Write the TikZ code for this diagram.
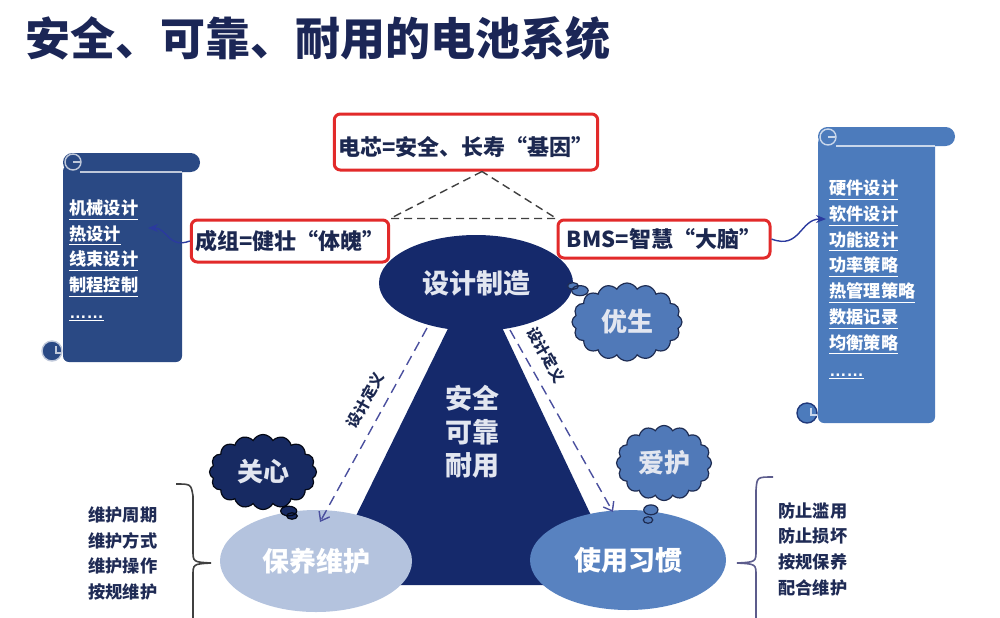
\documentclass[tikz,border=0pt]{standalone}
\usepackage{fontspec}
\setmainfont{Noto Sans CJK SC}
\newfontfamily\latinf{Liberation Sans}
\usetikzlibrary{shapes.geometric,shapes.symbols,shapes.callouts,arrows.meta}
\definecolor{titlec}{HTML}{1B2656}
\definecolor{navy}{HTML}{15296B}
\definecolor{navycloud}{HTML}{172A62}
\definecolor{cloudb}{HTML}{5079B8}
\definecolor{cloudline}{HTML}{1E2C52}
\definecolor{lightell}{HTML}{B4C3DE}
\definecolor{midell}{HTML}{5882C0}
\definecolor{redc}{HTML}{E22A2A}
\definecolor{boxtext}{HTML}{1C2850}
\definecolor{scrollL}{HTML}{2A4984}
\definecolor{scrollR}{HTML}{4C7BBC}
\definecolor{arrowc}{HTML}{2B3A9E}
\definecolor{dasharr}{HTML}{4A4F9E}
\definecolor{lighttxt}{HTML}{E2E6F0}
\definecolor{listc}{HTML}{1F2B55}
\definecolor{bracec}{HTML}{5C5C8C}
\newcommand\uln[1]{\underline{#1}}
\begin{document}
\begin{tikzpicture}[x=0.5pt,y=-0.5pt,
  redbox/.style={draw=redc, line width=1.5pt, rounded corners=3pt, fill=white, inner sep=2pt, text=boxtext, font=\fontsize{11}{13}\selectfont\bfseries},
  bigell/.style={ellipse, inner sep=0pt, text=white, font=\fontsize{13.5}{16}\selectfont\bfseries},
  thought/.style={cloud callout, cloud puffs=16, cloud puff arc=125, cloud ignores aspect, draw=cloudline, line width=0.6pt, inner sep=0pt, text=lighttxt, font=\fontsize{13}{15}\selectfont\bfseries},
  dasharrow/.style={draw=dasharr, line width=0.7pt, dash pattern=on 5pt off 3pt, -{Straight Barb[length=4pt,width=6pt]}},
  deflabel/.style={anchor=south, inner sep=1pt, outer sep=5pt, text=boxtext, font=\fontsize{7.5}{8.5}\selectfont\bfseries},
  dashtri/.style={draw=black!75, line width=0.7pt, dash pattern=on 4pt off 2.5pt},
  conn/.style={draw=arrowc, line width=0.7pt, -{Stealth[length=5pt,width=4pt]}},
  listtext/.style={align=left, inner sep=0pt, text=listc, font=\fontsize{8.6}{12.85}\selectfont\bfseries},
  scrolltext/.style={align=left, inner sep=0pt, text=white, font=\fontsize{8.6}{12.85}\selectfont\bfseries},
  bracel/.style={line width=0.8pt}
]
\useasboundingbox (0,0) rectangle (1000,617);
\clip (0,0) rectangle (1000,617);

% title
\node[anchor=base west, inner sep=0pt, text=titlec, font=\fontsize{22.5}{27}\selectfont\bfseries] (title) at (25,55) {安全、可靠、耐用的电池系统};

% left scroll
\fill[scrollL, rounded corners=3pt] (63,165) rectangle (182,362);
\fill[scrollL, rounded corners=4.7pt] (63,153) rectangle (200,172);
\draw[white!70!scrollL, line width=0.7pt] (80,172) -- (182,172);
\draw[white!70!scrollL, line width=0.7pt, fill=scrollL] (73,162) circle (4pt);
\draw[white!70!scrollL, line width=0.6pt] (73,162) -- (80,162);
\draw[white!70!scrollL, line width=0.7pt, fill=scrollL] (52,351) circle (5pt);
\draw[white!70!scrollL, line width=0.6pt] (56,346) -- (56,353) -- (62,353);

% right scroll
\fill[scrollR, rounded corners=3pt] (818,137) rectangle (935,423);
\fill[scrollR, rounded corners=4.7pt] (818,127) rectangle (955,146);
\draw[white!70!scrollR, line width=0.7pt] (836,146) -- (935,146);
\draw[white!70!scrollR, line width=0.7pt, fill=scrollR] (828,137) circle (4pt);
\draw[white!70!scrollR, line width=0.6pt] (828,137) -- (835,137);
\draw[navy!80!scrollR, line width=0.7pt, fill=scrollR] (807,413) circle (5pt);
\draw[white!70!scrollR, line width=0.6pt] (811,408) -- (811,415) -- (817,415);

% scroll texts
\node[scrolltext, anchor=west] (sl) at (69,248.5) {\uln{机械设计}\\\uln{热设计}\\\uln{线束设计}\\\uln{制程控制}};
\node[scrolltext, anchor=base west] (sld) at (69,318) {\uln{\latinf ……}};
\node[scrolltext, anchor=west] (sr) at (829,267.5) {\uln{硬件设计}\\\uln{软件设计}\\\uln{功能设计}\\\uln{功率策略}\\\uln{热管理策略}\\\uln{数据记录}\\\uln{均衡策略}};
\node[scrolltext, anchor=base west] (srd) at (829,376) {\uln{\latinf ……}};

% red boxes
\node[redbox, minimum width=126pt, minimum height=28pt, text height=15pt, text depth=1.2pt] (tb) at (466,142) {电芯=安全、长寿“基因”};
\node[redbox, minimum width=98pt, minimum height=21pt] (lb) at (290,241) {成组=健壮“体魄”};
\node[redbox, minimum width=106pt, minimum height=19pt] (rb) at (664,239) {BMS=智慧“大脑”};

\coordinate (apex) at ([xshift=8pt]tb.south);
\draw[dashtri] (apex) -- (lb.north east) -- (rb.north west) -- cycle;

\coordinate (lt) at (148,228);
\coordinate (rt) at (826,219);
\draw[conn] (lb.west) .. controls (168,249) and (168,228) .. (lt);
\draw[conn] (rb.east) .. controls (800,250) and (800,219) .. (rt);

% central trapezoid
\fill[navy] (462,300) -- (489,300) -- (624,585) -- (322,585) -- cycle;
\node[bigell, fill=navy, minimum width=97pt, minimum height=48pt, text=lighttxt] (dz) at (476,283) {设计制造};
\node[align=center, inner sep=0pt, text=lighttxt, font=\fontsize{13.5}{16.75}\selectfont\bfseries] (aq) at (472,432) {安全\\可靠\\耐用};

% bottom ellipses
\node[bigell, fill=lightell, minimum width=96pt, minimum height=51pt] (by) at (316,561) {保养维护};
\node[bigell, fill=midell, minimum width=98pt, minimum height=50pt] (sy) at (628,560) {使用习惯};

% dashed arrows
\coordinate (a1s) at (427,328);
\coordinate (a1e) at (320,522);
\coordinate (a2s) at (510,330);
\coordinate (a2e) at (613,512);
\draw[dasharrow] (a1s) -- (a1e) node[deflabel, pos=0.42, rotate=61.1] {设计定义};
\draw[dasharrow] (a2s) -- (a2e) node[deflabel, pos=0.19, rotate=-60.5] {设计定义};

% clouds
\node[thought, fill=cloudb, minimum width=55pt, minimum height=39pt, callout absolute pointer={(573,286)}] (ys) at (627,322) {优生};
\node[thought, fill=navycloud, draw=black!80!navy, minimum width=53.5pt, minimum height=37.5pt, callout absolute pointer={(292,516)}] (gx) at (263,472) {关心};
\node[thought, fill=cloudb, minimum width=47.5pt, minimum height=37.5pt, callout absolute pointer={(648,520)}] (ah) at (664,463) {爱护};

% braces and lists
\draw[bracel, draw=black!75] (176,484) .. controls (191,484) .. (193,496) -- (193,550) .. controls (193,562) .. (211,563) .. controls (193,564) .. (193,576) -- (193,630);
\draw[bracel, draw=bracec] (773,477) .. controls (757,477) .. (756,490) -- (756,550) .. controls (756,562) .. (737,563) .. controls (756,564) .. (756,576) -- (756,630);
\node[listtext, anchor=west] (ll) at (88,553.5) {维护周期\\维护方式\\维护操作\\按规维护};
\node[listtext, anchor=west] (rl) at (778,549) {防止滥用\\防止损坏\\按规保养\\配合维护};
\end{tikzpicture}
\end{document}
